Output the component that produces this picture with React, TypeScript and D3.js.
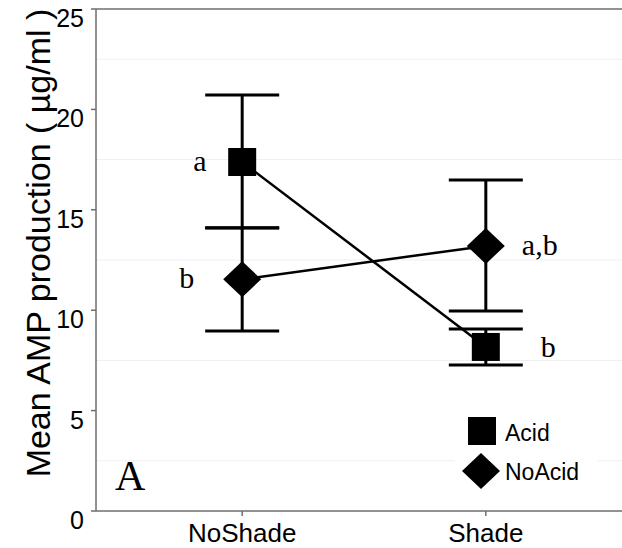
import { useEffect, useRef } from "react";
import * as d3 from "d3";

const categories = ["NoShade", "Shade"];
const acidMean = [17.38, 8.17];
const acidLow = [14.09, 7.27];
const acidHigh = [20.72, 9.06];
const noAcidMean = [11.54, 13.2];
const noAcidLow = [8.96, 9.96];
const noAcidHigh = [14.1, 16.48];
const acidLetters = ["a", "b"];
const noAcidLetters = ["b", "a,b"];
const yTicks = [0, 5, 10, 15, 20, 25];
const gridValues = [2.5, 7.5, 12.5, 17.5, 22.5];

const W = 622;
const H = 548;
const SANS = "'Liberation Sans', Arial, sans-serif";
const SERIF = "'Liberation Serif', 'Times New Roman', serif";

export default function App() {
  const ref = useRef<SVGSVGElement>(null);

  useEffect(() => {
    const svg = d3.select(ref.current);
    svg.selectAll("*").remove();

    const x = d3.scalePoint().domain(categories).range([96, 632]).padding(0.6);
    const y = d3.scaleLinear().domain([0, 25]).range([511, 9]);
    const axisColor = "#6e6e6e";

    // light grid at the half steps
    svg
      .append("g")
      .selectAll("line")
      .data(gridValues)
      .join("line")
      .attr("x1", 96)
      .attr("x2", W)
      .attr("y1", (d) => y(d))
      .attr("y2", (d) => y(d))
      .attr("stroke", "#efefef")
      .attr("stroke-width", 1);

    // frame: left, bottom, top
    const frame = svg.append("g").attr("stroke", axisColor).attr("stroke-width", 1.5);
    frame.append("line").attr("x1", 96).attr("x2", 96).attr("y1", y(25)).attr("y2", y(0));
    frame.append("line").attr("x1", 96).attr("x2", W).attr("y1", y(0)).attr("y2", y(0));
    frame.append("line").attr("x1", 96).attr("x2", W).attr("y1", y(25)).attr("y2", y(25));

    // y ticks
    const yt = svg.append("g");
    yt.selectAll("line")
      .data(yTicks)
      .join("line")
      .attr("x1", 91)
      .attr("x2", 96)
      .attr("y1", (d) => y(d))
      .attr("y2", (d) => y(d))
      .attr("stroke", axisColor)
      .attr("stroke-width", 1.5);
    yt.selectAll("text")
      .data(yTicks)
      .join("text")
      .attr("x", 84)
      .attr("y", (d) => y(d) + 18)
      .attr("text-anchor", "end")
      .attr("font-family", SANS)
      .attr("font-size", 25)
      .text((d) => d);

    // x ticks
    const xt = svg.append("g");
    xt.selectAll("line")
      .data(categories)
      .join("line")
      .attr("x1", (d) => x(d)!)
      .attr("x2", (d) => x(d)!)
      .attr("y1", y(0))
      .attr("y2", y(0) + 5)
      .attr("stroke", axisColor)
      .attr("stroke-width", 1.5);
    xt.selectAll("text")
      .data(categories)
      .join("text")
      .attr("x", (d) => x(d)!)
      .attr("y", 542)
      .attr("text-anchor", "middle")
      .attr("font-family", SANS)
      .attr("font-size", 26)
      .text((d) => d);

    // y title
    svg
      .append("text")
      .attr("transform", "translate(50,243) rotate(-90)")
      .attr("text-anchor", "middle")
      .attr("font-family", SANS)
      .attr("font-size", 34)
      .text("Mean AMP production ( µg/ml )");

    const series = [
      { mean: acidMean, low: acidLow, high: acidHigh, letters: acidLetters, shape: "square" },
      { mean: noAcidMean, low: noAcidLow, high: noAcidHigh, letters: noAcidLetters, shape: "diamond" },
    ];

    const line = d3
      .line<number>()
      .x((_, i) => x(categories[i])!)
      .y((d) => y(d));

    const square = d3.symbol().type(d3.symbolSquare).size(28 * 28);
    const diamond = "M0,-18L19,0L0,18L-19,0Z";

    series.forEach((s) => {
      const g = svg.append("g");
      // error bars
      categories.forEach((c, i) => {
        const cx = x(c)!;
        g.append("line")
          .attr("x1", cx).attr("x2", cx)
          .attr("y1", y(s.low[i])).attr("y2", y(s.high[i]))
          .attr("stroke", "#000").attr("stroke-width", 3);
        [s.low[i], s.high[i]].forEach((v) => {
          g.append("line")
            .attr("x1", cx - 37).attr("x2", cx + 37)
            .attr("y1", y(v)).attr("y2", y(v))
            .attr("stroke", "#000").attr("stroke-width", 3);
        });
      });
    });

    series.forEach((s) => {
      svg.append("path")
        .attr("d", line(s.mean))
        .attr("fill", "none")
        .attr("stroke", "#000")
        .attr("stroke-width", 2.5);
    });

    series.forEach((s) => {
      categories.forEach((c, i) => {
        svg.append("path")
          .attr("transform", `translate(${x(c)},${y(s.mean[i])})`)
          .attr("d", s.shape === "square" ? square()! : diamond)
          .attr("fill", "#000");
      });
    });

    // significance letters
    const letterPos = [
      [{ dx: -49, dy: 9 }, { dx: 55, dy: 10 }],
      [{ dx: -63, dy: 9 }, { dx: 36, dy: 9 }],
    ];
    series.forEach((s, si) => {
      categories.forEach((c, i) => {
        svg.append("text")
          .attr("x", x(c)! + letterPos[si][i].dx)
          .attr("y", y(s.mean[i]) + letterPos[si][i].dy)
          .attr("font-family", SERIF)
          .attr("font-size", 30)
          .text(s.letters[i]);
      });
    });

    // panel letter
    svg.append("text")
      .attr("x", 115)
      .attr("y", 490)
      .attr("font-family", SERIF)
      .attr("font-size", 42)
      .text("A");

    // legend
    const lg = svg.append("g");
    lg.append("rect").attr("x", 455).attr("y", 405).attr("width", 142).attr("height", 88).attr("fill", "#fff");
    lg.append("path").attr("transform", "translate(482,431)").attr("d", square()!).attr("fill", "#000");
    lg.append("path").attr("transform", "translate(481,471)").attr("d", diamond).attr("fill", "#000");
    lg.append("text").attr("x", 505).attr("y", 441).attr("font-family", SANS).attr("font-size", 23).text("Acid");
    lg.append("text").attr("x", 505).attr("y", 480).attr("font-family", SANS).attr("font-size", 23).text("NoAcid");
  }, []);

  return (
    <svg
      ref={ref}
      width={W}
      height={H}
      style={{ position: "absolute", left: 0, top: 0, background: "#fff" }}
    />
  );
}
